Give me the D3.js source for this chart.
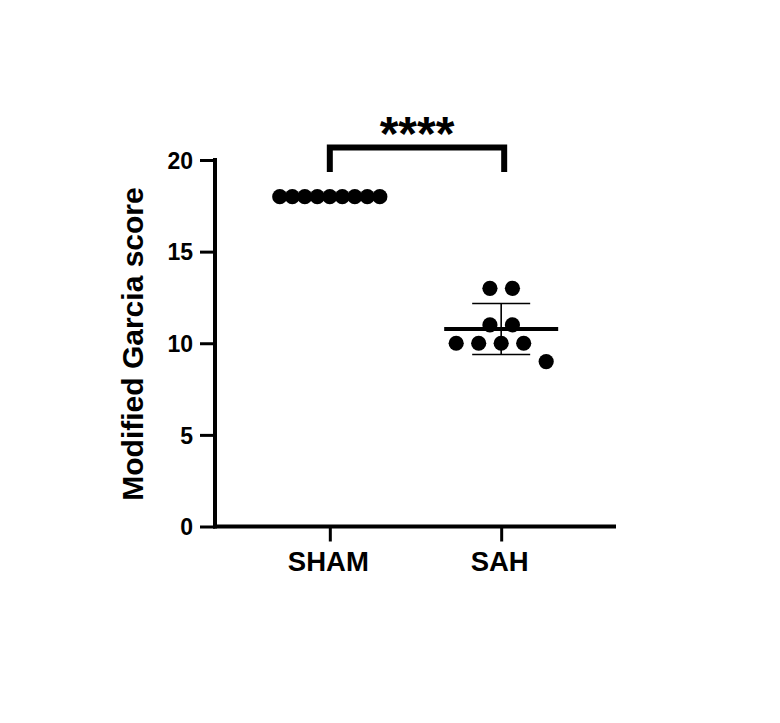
<!DOCTYPE html>
<html>
<head>
<meta charset="utf-8">
<script src="https://cdn.jsdelivr.net/npm/d3@7"></script>
<style>
  html, body { margin: 0; padding: 0; background: #ffffff; }
  svg { display: block; }
  text { font-family: "Liberation Sans", Arial, Helvetica, sans-serif; fill: #000; }
</style>
</head>
<body>
<svg id="chart" width="780" height="723"></svg>
<script>
// ---- data ----
const categories = ["SHAM", "SAH"];
const shamValues = [18, 18, 18, 18, 18, 18, 18, 18, 18];
const sahValues = [13, 13, 11, 11, 10, 10, 10, 10, 9];
const yTicks = [0, 5, 10, 15, 20];
const yLabel = "Modified Garcia score";
const significance = "****";

const groups = [
  { name: categories[0], values: shamValues },
  { name: categories[1], values: sahValues }
];

(function () {
// ---- layout ----
const svg = d3.select("#chart");
const mLeft = 215, mRight = 616, mTop = 160, mBottom = 526.5;

const x = d3.scalePoint().domain(categories).range([mLeft, mRight]).padding(0.67);
const y = d3.scaleLinear().domain([0, 20]).range([mBottom, mTop]);

const r = 7.6;           // dot radius
const slot = 22.5;       // horizontal spacing between side-by-side dots
const maxSpread = 100;   // max spread of one row of dots
const meanHalf = 57;     // half-width of mean line
const capHalf = 29;      // half-width of SD caps

// Scatter layout: spread equal values horizontally, avoid stacking on the row above
function scatterLayout(values) {
  const rows = d3.groups(values, v => v).sort((a, b) => b[0] - a[0]);
  const pts = [];
  let prev = null;
  rows.forEach(([v, arr]) => {
    const n = arr.length;
    const step = n > 1 ? Math.min(slot, maxSpread / (n - 1)) : slot;
    let offs = d3.range(n).map(i => (i - (n - 1) / 2) * step);
    if (prev && Math.abs(y(v) - y(prev.v)) < 2.6 * r) {
      const clash = offs.some(o => prev.offs.some(p => Math.abs(o - p) < step / 4));
      if (clash) {
        if (n > 1) offs = offs.map(o => o - step / 2);
        else offs = [d3.max(prev.offs) + step];
      }
    }
    offs.forEach(o => pts.push({ v, dx: o }));
    prev = { v, offs };
  });
  return pts;
}

// ---- axes ----
const yAxis = d3.axisLeft(y).tickValues(yTicks).tickSize(15).tickPadding(7).tickFormat(d3.format("d"));
const gy = svg.append("g").attr("transform", `translate(${mLeft},0)`).call(yAxis);
gy.select(".domain").remove();
gy.selectAll(".tick line").attr("stroke", "#000").attr("stroke-width", 3);
gy.selectAll(".tick text")
  .style("font-size", "23px").style("font-weight", "bold")
  .attr("dy", "0.36em");

const xAxis = d3.axisBottom(x).tickSize(15).tickPadding(12);
const gx = svg.append("g").attr("transform", `translate(0,${mBottom})`).call(xAxis);
gx.select(".domain").remove();
gx.selectAll(".tick line").attr("stroke", "#000").attr("stroke-width", 3);
gx.selectAll(".tick text")
  .style("font-size", "27.5px").style("font-weight", "bold")
  .attr("dx", "-2")
  .attr("dy", "0.63em");

// axis lines
svg.append("line")
  .attr("x1", mLeft).attr("x2", mLeft)
  .attr("y1", y(20) - 2).attr("y2", mBottom + 2)
  .attr("stroke", "#000").attr("stroke-width", 4);
svg.append("line")
  .attr("x1", mLeft - 2).attr("x2", mRight)
  .attr("y1", mBottom).attr("y2", mBottom)
  .attr("stroke", "#000").attr("stroke-width", 4);

// y label
svg.append("text")
  .attr("transform", `translate(143,344) rotate(-90)`)
  .attr("text-anchor", "middle")
  .style("font-size", "30px").style("font-weight", "bold")
  .text(yLabel);

// ---- mean & SD ----
groups.forEach(g => {
  const cx = x(g.name);
  const m = d3.mean(g.values);
  const sd = d3.deviation(g.values) || 0;
  const gg = svg.append("g");
  if (sd > 0) {
    gg.append("line").attr("x1", cx).attr("x2", cx)
      .attr("y1", y(m + sd)).attr("y2", y(m - sd))
      .attr("stroke", "#000").attr("stroke-width", 1.6);
    [m + sd, m - sd].forEach(v => {
      gg.append("line").attr("x1", cx - capHalf).attr("x2", cx + capHalf)
        .attr("y1", y(v)).attr("y2", y(v))
        .attr("stroke", "#000").attr("stroke-width", 1.6);
    });
  }
  gg.append("line").attr("x1", cx - meanHalf).attr("x2", cx + meanHalf)
    .attr("y1", y(m)).attr("y2", y(m))
    .attr("stroke", "#000").attr("stroke-width", 4);
});

// ---- dots ----
groups.forEach(g => {
  const cx = x(g.name);
  svg.append("g").selectAll("circle")
    .data(scatterLayout(g.values))
    .join("circle")
    .attr("cx", d => cx + d.dx)
    .attr("cy", d => y(d.v))
    .attr("r", r)
    .attr("fill", "#000");
});

// ---- significance bracket ----
const bTop = 147.5, bBottom = 172;
const x1 = x(categories[0]), x2 = x(categories[1]) + 3;
svg.append("path")
  .attr("d", `M${x1},${bBottom} V${bTop} H${x2} V${bBottom}`)
  .attr("fill", "none").attr("stroke", "#000").attr("stroke-width", 6)
  .attr("stroke-linejoin", "miter");
svg.append("text")
  .attr("x", (x1 + x2) / 2).attr("y", 150)
  .attr("text-anchor", "middle")
  .style("font-size", "48px").style("font-weight", "bold")
  .text(significance);
})();
</script>
</body>
</html>
